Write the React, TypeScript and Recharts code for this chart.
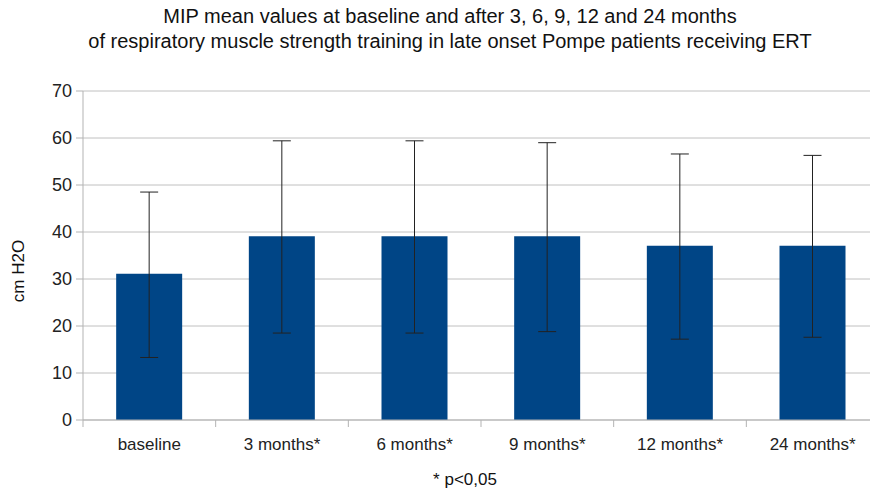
import { BarChart, Bar, XAxis, YAxis, CartesianGrid, ErrorBar } from "recharts";

const categories = ["baseline", "3 months*", "6 months*", "9 months*", "12 months*", "24 months*"];
const means = [31.1, 39.1, 39.1, 39.1, 37.1, 37.1];
const errLow = [17.8, 20.6, 20.6, 20.3, 19.9, 19.5];
const errHigh = [17.4, 20.3, 20.3, 19.9, 19.5, 19.2];
const yTicks = [0, 10, 20, 30, 40, 50, 60, 70];

const data = categories.map((name, i) => ({
  name,
  mean: means[i],
  err: [errLow[i], errHigh[i]],
}));

const CHART_W = 885;
const PLOT_LEFT = 83;
const MARGIN_RIGHT = 6;
const STEP = (CHART_W - PLOT_LEFT - MARGIN_RIGHT) / categories.length;

const font = "'Liberation Sans', Arial, sans-serif";

const XTick = (props: any) => {
  const { x, y, payload } = props;
  const left = x - STEP / 2;
  return (
    <g>
      <line x1={left} y1={y} x2={left} y2={y + 7} stroke="#b3b3b3" />
      <text x={x} y={y + 30} textAnchor="middle" fontSize={17} fill="#222" fontFamily={font}>
        {payload.value}
      </text>
    </g>
  );
};

const App = () => {
  return (
    <div
      style={{
        position: "absolute",
        left: 0,
        top: 0,
        width: 870,
        height: 494,
        overflow: "hidden",
        background: "#fff",
        fontFamily: font,
      }}
    >
      <div
        style={{
          position: "absolute",
          left: 0,
          top: 4,
          width: 900,
          textAlign: "center",
          fontSize: 20,
          lineHeight: "25px",
          color: "#111",
        }}
      >
        MIP mean values at baseline and after 3, 6, 9, 12 and 24 months
        <br />
        of respiratory muscle strength training in late onset Pompe patients receiving ERT
      </div>
      <div
        style={{
          position: "absolute",
          left: 19,
          top: 271,
          transform: "translate(-50%, -50%) rotate(-90deg)",
          fontSize: 17,
          color: "#111",
          whiteSpace: "nowrap",
        }}
      >
        cm H2O
      </div>
      <div
        style={{
          position: "absolute",
          left: 465,
          top: 480,
          transform: "translate(-50%, -50%)",
          fontSize: 17,
          color: "#111",
          whiteSpace: "nowrap",
        }}
      >
        * p&lt;0,05
      </div>
      <BarChart
        width={CHART_W}
        height={494}
        data={data}
        margin={{ top: 91, right: MARGIN_RIGHT, bottom: 34, left: 0 }}
        barCategoryGap="25%"
      >
        <CartesianGrid vertical={false} stroke="#c0c0c0" />
        <XAxis
          dataKey="name"
          axisLine={{ stroke: "#b3b3b3" }}
          tickLine={false}
          tickSize={0}
          tickMargin={0}
          height={40}
          tick={<XTick />}
          interval={0}
        />
        <YAxis
          width={PLOT_LEFT}
          domain={[0, 70]}
          ticks={yTicks}
          axisLine={{ stroke: "#b3b3b3" }}
          tickLine={{ stroke: "#b3b3b3" }}
          tickSize={7}
          tickMargin={4}
          tick={{ fontSize: 18, fill: "#222", fontFamily: font }}
        />
        <Bar dataKey="mean" fill="#004586" isAnimationActive={false}>
          <ErrorBar dataKey="err" width={9} stroke="#222" strokeWidth={1} />
        </Bar>
      </BarChart>
    </div>
  );
};

export default App;
